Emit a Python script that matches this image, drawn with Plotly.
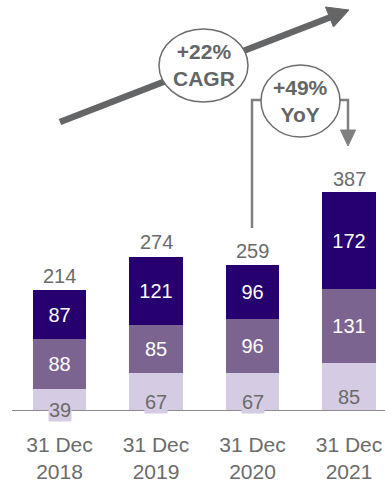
import plotly.graph_objects as go

# Data
dates = ['31 Dec<br>2018', '31 Dec<br>2019', '31 Dec<br>2020', '31 Dec<br>2021']
bottom = [39, 67, 67, 85]
middle = [88, 85, 96, 131]
top = [87, 121, 96, 172]
totals = [214, 274, 259, 387]
cagr_text = '+22%<br>CAGR'
yoy_text = '+49%<br>YoY'

DARK = '#26006f'
MID = '#7b6590'
LIGHT = '#d5cce4'
GREY = '#6b6b6b'
ARROW = '#646567'
FONT = 'Arial, Liberation Sans, sans-serif'

W, H = 385, 483
PLOT_H = 411   # baseline pixel row
STEP = 96.5    # pixel distance between bar centres
FIRST = 59.5   # pixel centre of the first bar


def px(x, y):
    """Pixel position -> paper coordinates."""
    return x / W, 1 - y / PLOT_H


xs = list(range(len(dates)))

fig = go.Figure()
for vals, color in [(bottom, LIGHT), (middle, MID), (top, DARK)]:
    fig.add_trace(
        go.Bar(
            x=xs,
            y=vals,
            marker=dict(color=color, line=dict(width=0)),
            width=0.55,
            text=None if color == LIGHT else vals,
            textposition='inside',
            insidetextanchor='middle',
            textfont=dict(color='white', size=20, family=FONT),
            hoverinfo='skip',
        )
    )

# Bottom segment labels with light box
for x, v in zip(xs, bottom):
    fig.add_annotation(
        x=x, y=v / 2, text=str(v), showarrow=False,
        font=dict(color=GREY, size=20, family=FONT),
        bgcolor=LIGHT, borderpad=0, yshift=-10,
    )

# Totals above bars
for x, v in zip(xs, totals):
    fig.add_annotation(
        x=x, y=v, text=str(v), showarrow=False, yanchor='bottom',
        font=dict(color=GREY, size=20, family=FONT), yshift=1,
    )

# Baseline
fig.add_shape(type='line', xref='paper', yref='y', x0=12 / W, x1=1, y0=0, y1=0,
              line=dict(color='#8c8c8c', width=2))

# CAGR arrow
x0, y0 = px(60, 122)
x1, y1 = px(331, 17)
fig.add_shape(type='line', xref='paper', yref='paper', x0=x0, y0=y0, x1=x1, y1=y1,
              line=dict(color=ARROW, width=6.5))
pts = [px(349, 10), px(333.5, 27), px(325.5, 7)]
path = 'M ' + ' L '.join(f'{a},{b}' for a, b in pts) + ' Z'
fig.add_shape(type='path', xref='paper', yref='paper', path=path,
              fillcolor=ARROW, line=dict(color=ARROW, width=1))

# YoY bracket
pts = [px(252, 228), px(252, 100), px(348, 100), px(348, 132)]
path = 'M ' + ' L '.join(f'{a},{b}' for a, b in pts)
fig.add_shape(type='path', xref='paper', yref='paper', path=path,
              line=dict(color='#7f7f7f', width=2.5))
pts = [px(348, 146), px(340.5, 130), px(355.5, 130)]
path = 'M ' + ' L '.join(f'{a},{b}' for a, b in pts) + ' Z'
fig.add_shape(type='path', xref='paper', yref='paper', path=path,
              fillcolor='#7f7f7f', line=dict(color='#7f7f7f', width=1))

# Ellipses with labels
for (cx, cy, w, h), txt in [((203.5, 65.5, 89, 73), cagr_text),
                            ((300.5, 101, 79, 72), yoy_text)]:
    ex0, ey0 = px(cx - w / 2, cy + h / 2)
    ex1, ey1 = px(cx + w / 2, cy - h / 2)
    fig.add_shape(type='circle', xref='paper', yref='paper',
                  x0=ex0, y0=ey0, x1=ex1, y1=ey1,
                  fillcolor='white', line=dict(color='#6d6d6d', width=1.5))
    tx, ty = px(cx, cy)
    fig.add_annotation(xref='paper', yref='paper', x=tx, y=ty, text=f'<b>{txt}</b>',
                       xanchor='center', yanchor='middle', showarrow=False,
                       font=dict(color=ARROW, size=21, family=FONT))

fig.update_xaxes(
    tickmode='array', tickvals=xs, ticktext=dates,
    range=[-FIRST / STEP, (W - FIRST) / STEP],
    showgrid=False, zeroline=False, showline=False,
    tickfont=dict(color=GREY, size=21, family=FONT),
    ticks='', ticklabelstandoff=19, ticklabeloverflow='allow',
)
fig.update_yaxes(range=[0, 728], visible=False)
fig.update_layout(
    barmode='stack',
    width=W, height=H,
    margin=dict(l=0, r=0, t=0, b=H - PLOT_H),
    paper_bgcolor='white',
    plot_bgcolor='white',
    showlegend=False,
)
# drop the default page margin so the figure fills the window exactly
fig.write_html('out.html', config={'displayModeBar': False},
               post_script="document.body.style.margin = '0';")
